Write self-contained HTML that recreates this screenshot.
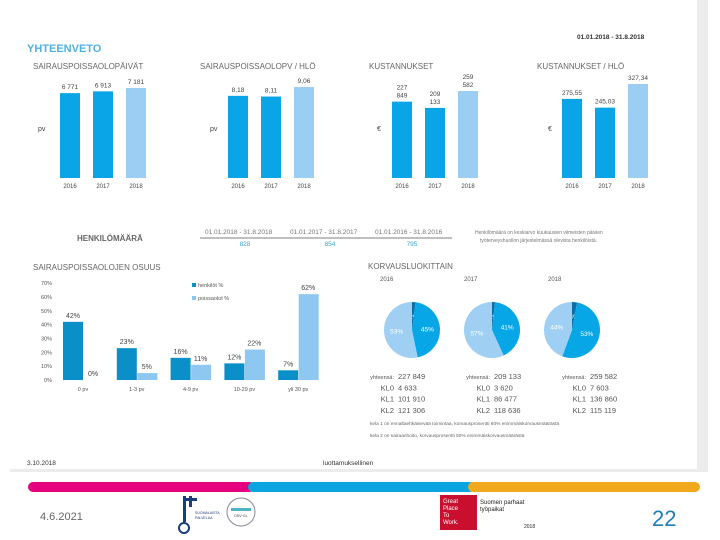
<!DOCTYPE html>
<html><head><meta charset="utf-8"><style>
html,body{margin:0;padding:0;background:#fff;}
svg{display:block;font-family:"Liberation Sans",sans-serif;}
</style></head><body>
<svg id="s" width="720" height="540" viewBox="0 0 720 540">
<rect x="697" y="0" width="11" height="472" fill="#ececec"/>
<rect x="10" y="469" width="698" height="3" fill="#ececec"/>
<text x="27" y="52" font-size="11" font-weight="bold" fill="#4fb3e0">YHTEENVETO</text>
<text x="577" y="39" font-size="6.5" font-weight="bold" fill="#333">01.01.2018 - 31.8.2018</text>
<g id="topcharts"></g>
<text x="77" y="241" font-size="8" font-weight="bold" fill="#666">HENKILÖMÄÄRÄ</text>
<text x="205" y="234" font-size="6.5" fill="#777">01.01.2018 - 31.8.2018</text>
<text x="290" y="234" font-size="6.5" fill="#777">01.01.2017 - 31.8.2017</text>
<text x="375" y="234" font-size="6.5" fill="#777">01.01.2016 - 31.8.2016</text>
<line x1="200" y1="238" x2="452" y2="238" stroke="#555" stroke-width="0.8"/>
<text x="245" y="246" font-size="6.5" fill="#3aa6d8" text-anchor="middle">828</text>
<text x="330" y="246" font-size="6.5" fill="#3aa6d8" text-anchor="middle">854</text>
<text x="412" y="246" font-size="6.5" fill="#3aa6d8" text-anchor="middle">795</text>
<text x="475" y="234" font-size="5" fill="#777">Henkilömäärä on keskiarvo kuukausien viimeisten päivien</text>
<text x="480" y="242" font-size="5" fill="#777">työterveyshuollon järjestelmässä olevista henkilöistä.</text>
<text x="33" y="270" font-size="8" fill="#666">SAIRAUSPOISSAOLOJEN OSUUS</text>
<g id="share"></g>
<text x="368" y="269" font-size="8" fill="#666">KORVAUSLUOKITTAIN</text>
<g id="pies"></g>
<text x="370" y="425" font-size="4.8" fill="#666">kela 1 on ennaltaehkäisevää toimintaa, korvausprosentti 60% enimmäiskorvausmäärästä</text>
<text x="370" y="437" font-size="4.8" fill="#666">kela 2 on sairaanhoito, korvausprosentti 50% enimmäiskorvausmäärästä</text>
<text x="27" y="465" font-size="6.5" fill="#333">3.10.2018</text>
<text x="323" y="465" font-size="6.5" fill="#333">luottamuksellinen</text>
<rect x="28" y="482" width="227" height="10" rx="5" fill="#e5007e"/>
<rect x="248" y="482" width="227" height="10" rx="5" fill="#0aa5e0"/>
<rect x="468" y="482" width="232" height="10" rx="5" fill="#f2a81d"/>
<text x="40" y="520" font-size="11" fill="#666">4.6.2021</text>
<g>
<rect x="183" y="496" width="3" height="26" fill="#1a3d7c"/><rect x="183" y="498" width="14" height="3" fill="#1a3d7c"/><rect x="189" y="496" width="3" height="11" fill="#1a3d7c"/>
<circle cx="184" cy="528" r="5" fill="none" stroke="#1a3d7c" stroke-width="2"/>
<text x="195" y="514" font-size="3.5" fill="#1a3d7c">SUOMALAISTA</text><text x="195" y="519" font-size="3.5" fill="#1a3d7c">PALVELUA</text></g>
<g><circle cx="241" cy="512" r="14" fill="#fff" stroke="#889" stroke-width="1"/><rect x="231" y="508" width="20" height="3" fill="#4fb3c8"/><text x="241" y="517" font-size="3.5" text-anchor="middle" fill="#445">DNV·GL</text></g>
<rect x="440" y="495" width="37" height="35" fill="#c8102e"/>
<text x="443" y="503" font-size="6" fill="#fff">Great</text>
<text x="443" y="510" font-size="6" fill="#fff">Place</text>
<text x="443" y="517" font-size="6" fill="#fff">To</text>
<text x="443" y="524" font-size="6" fill="#fff">Work.</text>
<text x="480" y="504" font-size="6" fill="#222">Suomen parhaat</text>
<text x="480" y="511" font-size="6" fill="#222">työpaikat</text>
<text x="524" y="528" font-size="5" fill="#222">2018</text>
<text x="652" y="526" font-size="22" fill="#1e7fb8">22</text>
</svg>
<script>
const NS="http://www.w3.org/2000/svg";
function mk(p,t,a,txt){const e=document.createElementNS(NS,t);for(const k in a)e.setAttribute(k,a[k]);if(txt!==undefined)e.textContent=txt;p.appendChild(e);return e;}
const years=["2016","2017","2018"];
const daysValues=[6771,6913,7181];
const daysLabels=["6 771","6 913","7 181"];
const perEmpDays=[8.18,8.11,9.06];
const perEmpDaysLabels=["8,18","8,11","9,06"];
const costValues=[227849,209133,259582];
const costLabels=[["227","849"],["209","133"],["259","582"]];
const perEmpCost=[275.55,245.03,327.34];
const perEmpCostLabels=["275,55","245,03","327,34"];
const colors3=["#0aa5e6","#0aa5e6","#9ccdf3"];
const topGroup=document.getElementById('topcharts');
function small(title,tx,ux,unit,x0,vals,labels,maxH,maxV,key){
  const g=mk(topGroup,'g',{});
  
  
  const t=mk(g,'text',{x:tx,y:69,'font-size':8,fill:'#666'},title);
  
  
  const u=mk(g,'text',{x:ux,y:131,'font-size':7,fill:'#444'},unit);
  
  
  const base=178;
  vals.forEach((v,i)=>{
    const h=v/maxV*maxH, x=x0+i*33;
    const r=mk(g,'rect',{x:x,y:base-h,width:20,height:h,fill:colors3[i]});
    
    
    const lab=labels[i];
    if(Array.isArray(lab)){
      const a=mk(g,'text',{x:x+10,y:base-h-12,'font-size':6.5,fill:'#444','text-anchor':'middle'},lab[0]);
      
      
      const b=mk(g,'text',{x:x+10,y:base-h-4,'font-size':6.5,fill:'#444','text-anchor':'middle'},lab[1]);
      
      
    } else {
      const a=mk(g,'text',{x:x+10,y:base-h-4,'font-size':6.5,fill:'#444','text-anchor':'middle'},lab);
      
      
    }
    const yl=mk(g,'text',{x:x+10,y:188,'font-size':6,fill:'#444','text-anchor':'middle'},years[i]);
    
    
  });
}
small("SAIRAUSPOISSAOLOPÄIVÄT",33,38,"pv",60,daysValues,daysLabels,90,7181,'sick-days');
small("SAIRAUSPOISSAOLOPV / HLÖ",200,210,"pv",228,perEmpDays,perEmpDaysLabels,91,9.06,'sick-days-per-person');
small("KUSTANNUKSET",369,377,"€",392,costValues,costLabels,87,259582,'costs');
small("KUSTANNUKSET / HLÖ",537,548,"€",562,perEmpCost,perEmpCostLabels,94,327.34,'costs-per-person');

const shareCats=["0 pv","1-3 pv","4-9 pv","10-29 pv","yli 30 pv"];
const personsPct=[42,23,16,12,7];
const absencePct=[0,5,11,22,62];
const yTicks=[0,10,20,30,40,50,60,70];
const shareGroup=document.getElementById('share');
const shareBase=380, pxPer=1.385;
function yScale(v){return shareBase-v*pxPer;}
yTicks.forEach(t=>{const e=mk(shareGroup,'text',{x:52,y:yScale(t)+2,'font-size':5.5,fill:'#555','text-anchor':'end'},t+'%');
 
 });
shareCats.forEach((c,i)=>{
  const gx=63+i*53.8;
  const a=mk(shareGroup,'rect',{x:gx,y:yScale(personsPct[i]),width:20,height:personsPct[i]*pxPer,fill:'#0a8fc8'});
  
  
  const b=mk(shareGroup,'rect',{x:gx+20.5,y:yScale(absencePct[i]),width:20,height:absencePct[i]*pxPer,fill:'#8ec8f0'});
  
  
  const la=mk(shareGroup,'text',{x:gx+10,y:yScale(personsPct[i])-4,'font-size':7,fill:'#444','text-anchor':'middle'},personsPct[i]+'%');
  
  
  const lb=mk(shareGroup,'text',{x:gx+30,y:yScale(absencePct[i])-4,'font-size':7,fill:'#444','text-anchor':'middle'},absencePct[i]+'%');
  
  
  const cl=mk(shareGroup,'text',{x:gx+20,y:391,'font-size':5.5,fill:'#555','text-anchor':'middle'},c);
  
  
});
const l1=mk(shareGroup,'rect',{x:192,y:283,width:4,height:4,fill:'#0a8fc8'});


const l1t=mk(shareGroup,'text',{x:198,y:287,'font-size':5.5,fill:'#555'},'henkilöt %');


const l2=mk(shareGroup,'rect',{x:192,y:296,width:4,height:4,fill:'#8ec8f0'});


const l2t=mk(shareGroup,'text',{x:198,y:300,'font-size':5.5,fill:'#555'},'poissaolot %');



const pieYears=["2016","2017","2018"];
const kl0=[4633,3620,7603];
const kl1=[101910,86477,136860];
const kl2=[121306,118636,115119];
const totals=["227 849","209 133","259 582"];
const kl0L=["4 633","3 620","7 603"];
const kl1L=["101 910","86 477","136 860"];
const kl2L=["121 306","118 636","115 119"];
const pieCols=["#0b6ea8","#07a6e6","#9fcff2"];
const pieGroup=document.getElementById('pies');
pieYears.forEach((yr,i)=>{
  const cx=412+i*80, cy=330, r=28;
  const yl=mk(pieGroup,'text',{x:380+i*84,y:281,'font-size':6,fill:'#555'},yr);
  
  
  const vals=[kl0[i],kl1[i],kl2[i]], tot=vals[0]+vals[1]+vals[2];
  let a=-Math.PI/2;
  vals.forEach((v,j)=>{
    const da=v/tot*2*Math.PI, a2=a+da;
    const p=mk(pieGroup,'path',{d:`M${cx},${cy}L${cx+r*Math.cos(a)},${cy+r*Math.sin(a)}A${r},${r} 0 ${da>Math.PI?1:0} 1 ${cx+r*Math.cos(a2)},${cy+r*Math.sin(a2)}Z`,fill:pieCols[j]});
    
    
    const pct=Math.round(v/tot*100)+'%';
    const mid=(a+a2)/2, rr=r*0.55;
    const tx=j==0?cx+2:cx+rr*Math.cos(mid), ty=j==0?cy-11:cy+rr*Math.sin(mid)+2;
    const t=mk(pieGroup,'text',{x:tx,y:ty,'font-size':6.5,fill:'#fff','text-anchor':'middle'},pct);
    
    
    a=a2;
  });
  const bx=362+i*96;
  const rows=[["yhteensä:",totals[i]],["KL0",kl0L[i]],["KL1",kl1L[i]],["KL2",kl2L[i]]];
  rows.forEach((rw,k)=>{
    const yy=379+k*11.3;
    const lt=mk(pieGroup,'text',{x:bx+32,y:yy,'font-size':k==0?5.5:7.5,fill:'#555','text-anchor':'end'},rw[0]);
    
    
    const vt=mk(pieGroup,'text',{x:bx+36,y:yy,'font-size':7.5,fill:'#555'},rw[1]);
    
    
  });
});
</script>
</body></html>
